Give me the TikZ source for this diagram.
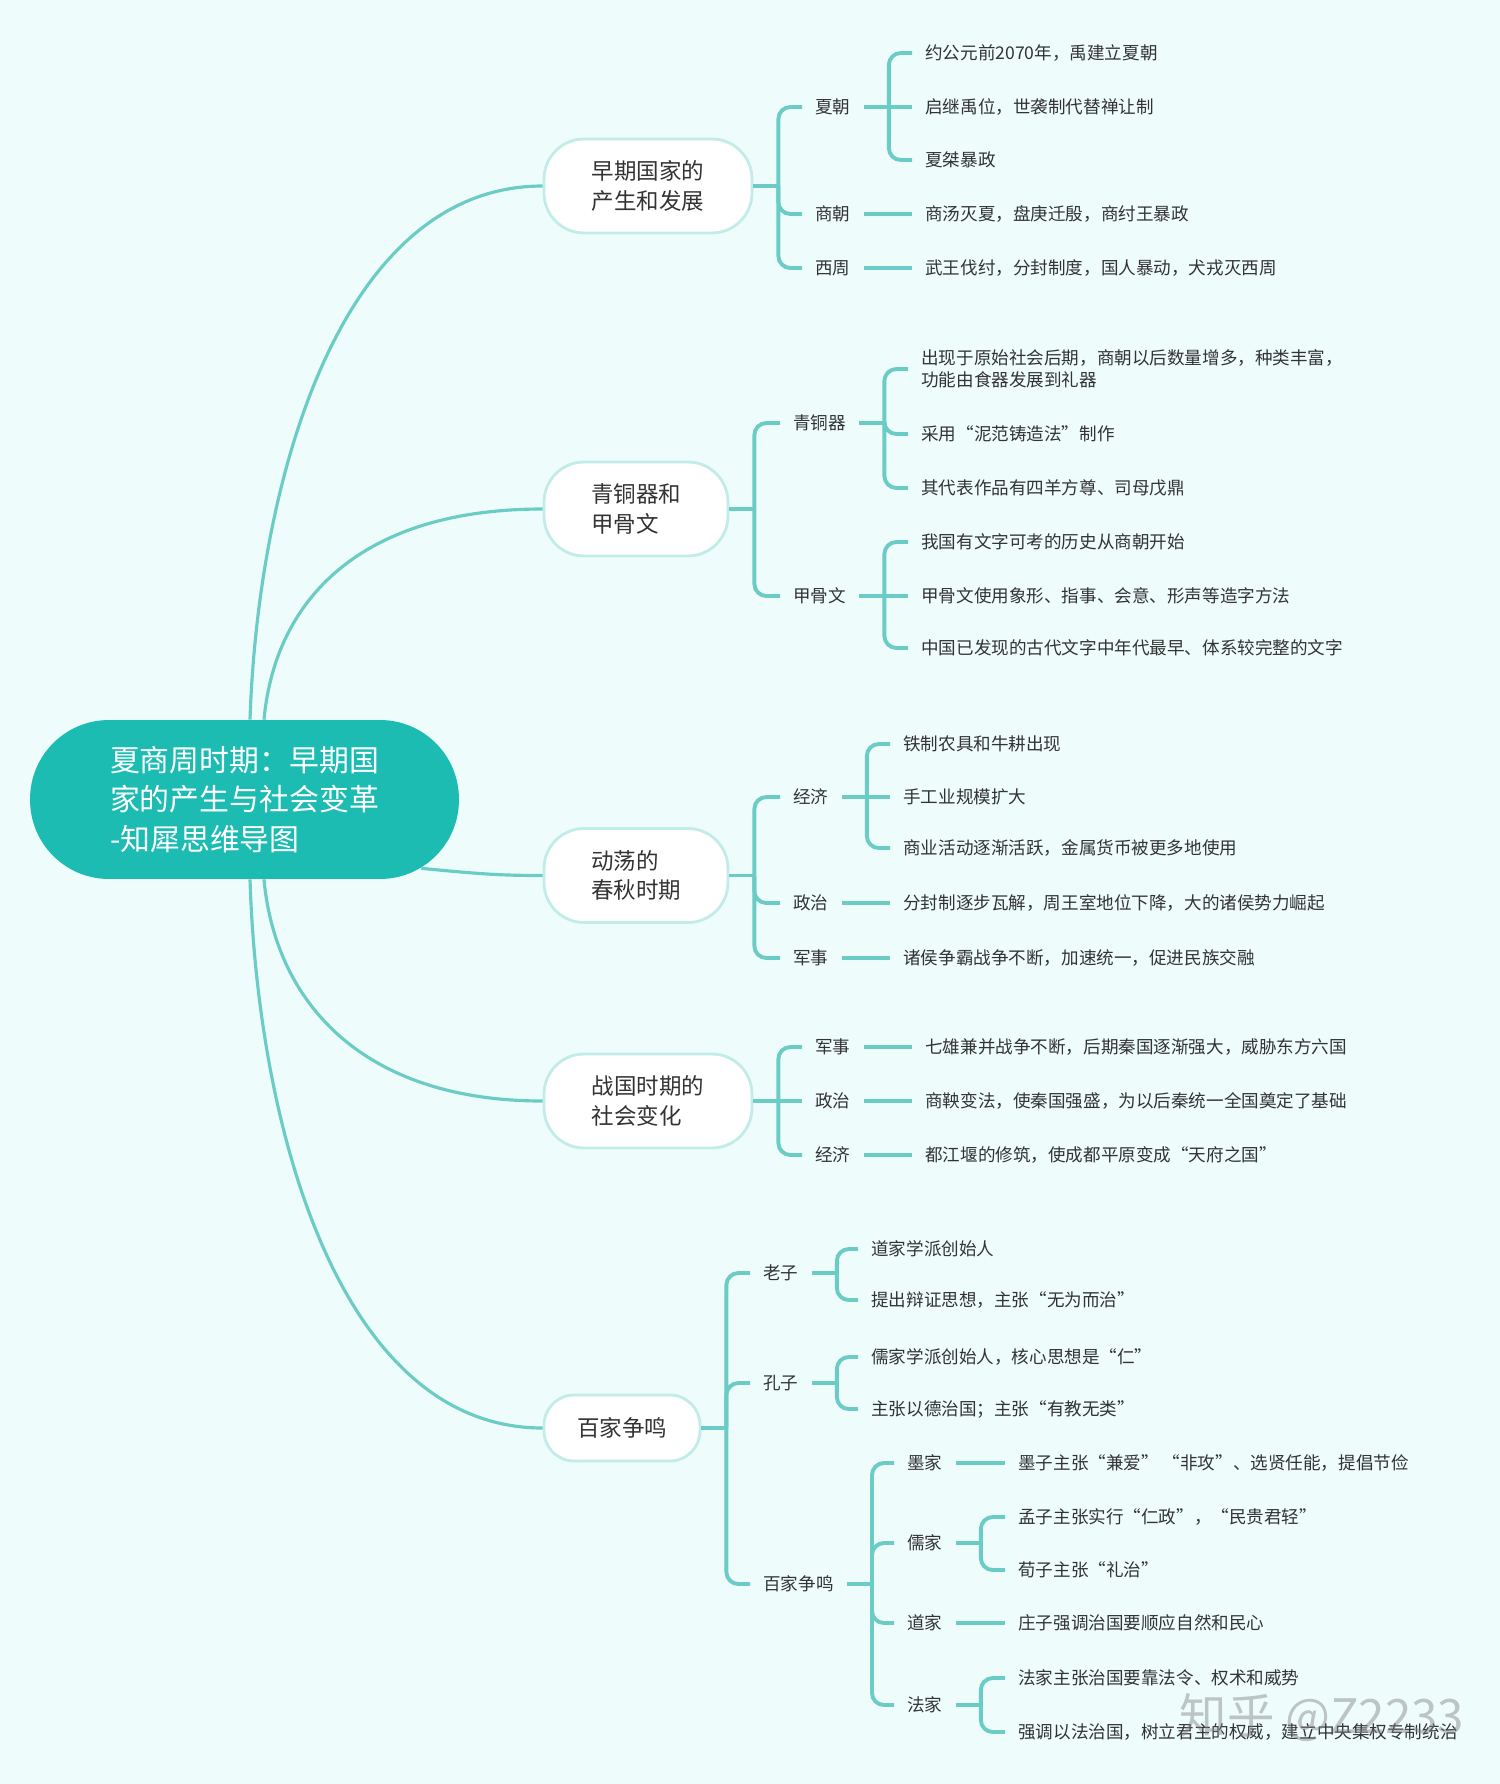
\documentclass[tikz,border=0pt]{standalone}
\usepackage{fontspec}
\setmainfont{Noto Sans CJK SC}

\definecolor{bgcyan}{HTML}{EEFCFC}
\definecolor{rootteal}{HTML}{1CBCB2}
\definecolor{linkteal}{HTML}{6BCCC5}
\definecolor{topicedge}{HTML}{C2ECE7}
\definecolor{textgray}{HTML}{333333}

\tikzset{
  rootpill/.style={fill=rootteal, text=white, rounded corners=1.58cm, minimum width=8.58cm,
    minimum height=3.18cm, align=left, inner sep=0pt, font=\fontsize{17}{22.7}\selectfont},
  topicbox/.style={draw=topicedge, line width=1.6pt, fill=white, rounded corners=0.8cm,
    minimum height=1.88cm, align=left, inner sep=0pt, text=textgray,
    font=\fontsize{12.8}{16.6}\selectfont},
  itemtext/.style={anchor=west, inner xsep=0.26cm, inner ysep=0pt, align=left, text=textgray,
    font=\fontsize{10}{12.5}\selectfont},
  stalkline/.style={draw=linkteal, line width=1.8pt},
  linkline/.style={draw=linkteal, line width=2.2pt},
  forkline/.style={linkline, rounded corners=0.24cm},
  watermark/.style={text=gray, opacity=0.45, font=\fontsize{27}{30}\selectfont}
}

\begin{document}
\begin{tikzpicture}[x=0.02cm, y=-0.02cm]

% Canvas
\useasboundingbox (0,0) rectangle (1500,1784);
\fill[bgcyan] (0,0) rectangle (1500,1784);

% Root
\node[rootpill] (root) at (244.5,799.5) {夏商周时期：早期国\\家的产生与社会变革\\-知犀思维导图};

% Main topics
\node[topicbox, minimum width=4.16cm] (early) at (648,186) {早期国家的\\产生和发展};
\node[topicbox, minimum width=3.68cm] (bronze) at (636,509) {青铜器和\\甲骨文};
\node[topicbox, minimum width=3.68cm] (spring) at (636,875.5) {动荡的\\春秋时期};
\node[topicbox, minimum width=4.16cm] (warring) at (648,1101) {战国时期的\\社会变化};
\node[topicbox, minimum width=3.12cm, minimum height=1.32cm, rounded corners=0.6cm] (hundred) at (622,1428) {百家争鸣};

% Stalks from the root
\draw[stalkline] ([xshift=0.11cm]root.north) .. controls (258,480) and (340,186) .. (early.west);
\draw[stalkline] ([xshift=0.39cm]root.north) .. controls (275,600) and (360,509) .. (bronze.west);
\draw[stalkline] ([shift={(-38,-11)}]root.south east) .. controls (480,874) and (500,875.5) .. (spring.west);
\draw[stalkline] ([xshift=0.39cm]root.south) .. controls (275,1000) and (360,1101) .. (warring.west);
\draw[stalkline] ([xshift=0.11cm]root.south) .. controls (258,1130) and (340,1428) .. (hundred.west);

% Early states
\node[itemtext] (xia) at (802,107) {夏朝};
\node[itemtext] (shang) at (802,214) {商朝};
\node[itemtext] (zhou) at (802,268) {西周};
\node[itemtext] (xia1) at (912,53) {约公元前2070年，禹建立夏朝};
\node[itemtext] (xia2) at (912,107) {启继禹位，世袭制代替禅让制};
\node[itemtext] (xia3) at (912,160) {夏桀暴政};
\node[itemtext] (shang1) at (912,214) {商汤灭夏，盘庚迁殷，商纣王暴政};
\node[itemtext] (zhou1) at (912,268) {武王伐纣，分封制度，国人暴动，犬戎灭西周};

\draw[linkline] (early.east) -- ++(25,0) coordinate (earlyj);
\foreach \kid in {xia,shang,zhou} \draw[forkline] (earlyj) |- (\kid.west);
\draw[linkline] (xia.east) -- ++(25,0) coordinate (xiaj);
\foreach \kid in {xia1,xia3} \draw[forkline] (xiaj) |- (\kid.west);
\draw[linkline] (xiaj) -- (xia2.west);
\draw[linkline] (shang.east) -- (shang1.west);
\draw[linkline] (zhou.east) -- (zhou1.west);

% Bronze and oracle bones
\node[itemtext] (bronzeware) at (780,423) {青铜器};
\node[itemtext] (oracle) at (780,596) {甲骨文};
\node[itemtext] (bw1) at (908,369) {出现于原始社会后期，商朝以后数量增多，种类丰富，\\功能由食器发展到礼器};
\node[itemtext] (bw2) at (908,434) {采用“泥范铸造法”制作};
\node[itemtext] (bw3) at (908,488) {其代表作品有四羊方尊、司母戊鼎};
\node[itemtext] (or1) at (908,542) {我国有文字可考的历史从商朝开始};
\node[itemtext] (or2) at (908,596) {甲骨文使用象形、指事、会意、形声等造字方法};
\node[itemtext] (or3) at (908,648) {中国已发现的古代文字中年代最早、体系较完整的文字};

\draw[linkline] (bronze.east) -- ++(25,0) coordinate (bronzej);
\foreach \kid in {bronzeware,oracle} \draw[forkline] (bronzej) |- (\kid.west);
\draw[linkline] (bronzeware.east) -- ++(25,0) coordinate (bwj);
\foreach \kid in {bw1,bw2,bw3} \draw[forkline] (bwj) |- (\kid.west);
\draw[linkline] (oracle.east) -- ++(25,0) coordinate (orj);
\foreach \kid in {or1,or3} \draw[forkline] (orj) |- (\kid.west);
\draw[linkline] (orj) -- (or2.west);

% Spring and Autumn
\node[itemtext] (econ) at (780,797) {经济};
\node[itemtext] (poli) at (780,903) {政治};
\node[itemtext] (mili) at (780,958) {军事};
\node[itemtext] (econ1) at (890,744) {铁制农具和牛耕出现};
\node[itemtext] (econ2) at (890,797) {手工业规模扩大};
\node[itemtext] (econ3) at (890,848) {商业活动逐渐活跃，金属货币被更多地使用};
\node[itemtext] (poli1) at (890,903) {分封制逐步瓦解，周王室地位下降，大的诸侯势力崛起};
\node[itemtext] (mili1) at (890,958) {诸侯争霸战争不断，加速统一，促进民族交融};

\draw[linkline] (spring.east) -- ++(25,0) coordinate (springj);
\foreach \kid in {econ,poli,mili} \draw[forkline] (springj) |- (\kid.west);
\draw[linkline] (econ.east) -- ++(25,0) coordinate (econj);
\foreach \kid in {econ1,econ3} \draw[forkline] (econj) |- (\kid.west);
\draw[linkline] (econj) -- (econ2.west);
\draw[linkline] (poli.east) -- (poli1.west);
\draw[linkline] (mili.east) -- (mili1.west);

% Warring States
\node[itemtext] (wmili) at (802,1047) {军事};
\node[itemtext] (wpoli) at (802,1101) {政治};
\node[itemtext] (wecon) at (802,1155) {经济};
\node[itemtext] (wmili1) at (912,1047) {七雄兼并战争不断，后期秦国逐渐强大，威胁东方六国};
\node[itemtext] (wpoli1) at (912,1101) {商鞅变法，使秦国强盛，为以后秦统一全国奠定了基础};
\node[itemtext] (wecon1) at (912,1155) {都江堰的修筑，使成都平原变成“天府之国”};

\draw[linkline] (warring.east) -- ++(25,0) coordinate (warringj);
\foreach \kid in {wmili,wecon} \draw[forkline] (warringj) |- (\kid.west);
\draw[linkline] (warringj) -- (wpoli.west);
\draw[linkline] (wmili.east) -- (wmili1.west);
\draw[linkline] (wpoli.east) -- (wpoli1.west);
\draw[linkline] (wecon.east) -- (wecon1.west);

% Hundred schools
\node[itemtext] (laozi) at (750,1273) {老子};
\node[itemtext] (kongzi) at (750,1383) {孔子};
\node[itemtext] (schools) at (750,1584) {百家争鸣};
\node[itemtext] (lz1) at (858,1249) {道家学派创始人};
\node[itemtext] (lz2) at (858,1300) {提出辩证思想，主张“无为而治”};
\node[itemtext] (kz1) at (858,1357) {儒家学派创始人，核心思想是“仁”};
\node[itemtext] (kz2) at (858,1409) {主张以德治国；主张“有教无类”};
\node[itemtext] (mo) at (894,1463) {墨家};
\node[itemtext] (ru) at (894,1543) {儒家};
\node[itemtext] (dao) at (894,1623) {道家};
\node[itemtext] (fa) at (894,1705) {法家};
\node[itemtext] (mo1) at (1005,1463) {墨子主张“兼爱” “非攻”、选贤任能，提倡节俭};
\node[itemtext] (ru1) at (1005,1517) {孟子主张实行“仁政”，“民贵君轻”};
\node[itemtext] (ru2) at (1005,1570) {荀子主张“礼治”};
\node[itemtext] (dao1) at (1005,1623) {庄子强调治国要顺应自然和民心};
\node[itemtext] (fa1) at (1005,1678) {法家主张治国要靠法令、权术和威势};
\node[itemtext] (fa2) at (1005,1732) {强调以法治国，树立君主的权威，建立中央集权专制统治};

\draw[linkline] (hundred.east) -- ++(25,0) coordinate (hundredj);
\foreach \kid in {laozi,kongzi,schools} \draw[forkline] (hundredj) |- (\kid.west);
\draw[linkline] (laozi.east) -- ++(25,0) coordinate (laozij);
\foreach \kid in {lz1,lz2} \draw[forkline] (laozij) |- (\kid.west);
\draw[linkline] (kongzi.east) -- ++(25,0) coordinate (kongzij);
\foreach \kid in {kz1,kz2} \draw[forkline] (kongzij) |- (\kid.west);
\draw[linkline] (schools.east) -- ++(25,0) coordinate (schoolsj);
\foreach \kid in {mo,ru,dao,fa} \draw[forkline] (schoolsj) |- (\kid.west);
\draw[linkline] (mo.east) -- (mo1.west);
\draw[linkline] (ru.east) -- ++(25,0) coordinate (ruj);
\foreach \kid in {ru1,ru2} \draw[forkline] (ruj) |- (\kid.west);
\draw[linkline] (dao.east) -- (dao1.west);
\draw[linkline] (fa.east) -- ++(25,0) coordinate (faj);
\foreach \kid in {fa1,fa2} \draw[forkline] (faj) |- (\kid.west);

% Watermark
\node[watermark] (mark) at (1322,1718) {知乎 @Z2233};

\end{tikzpicture}
\end{document}
